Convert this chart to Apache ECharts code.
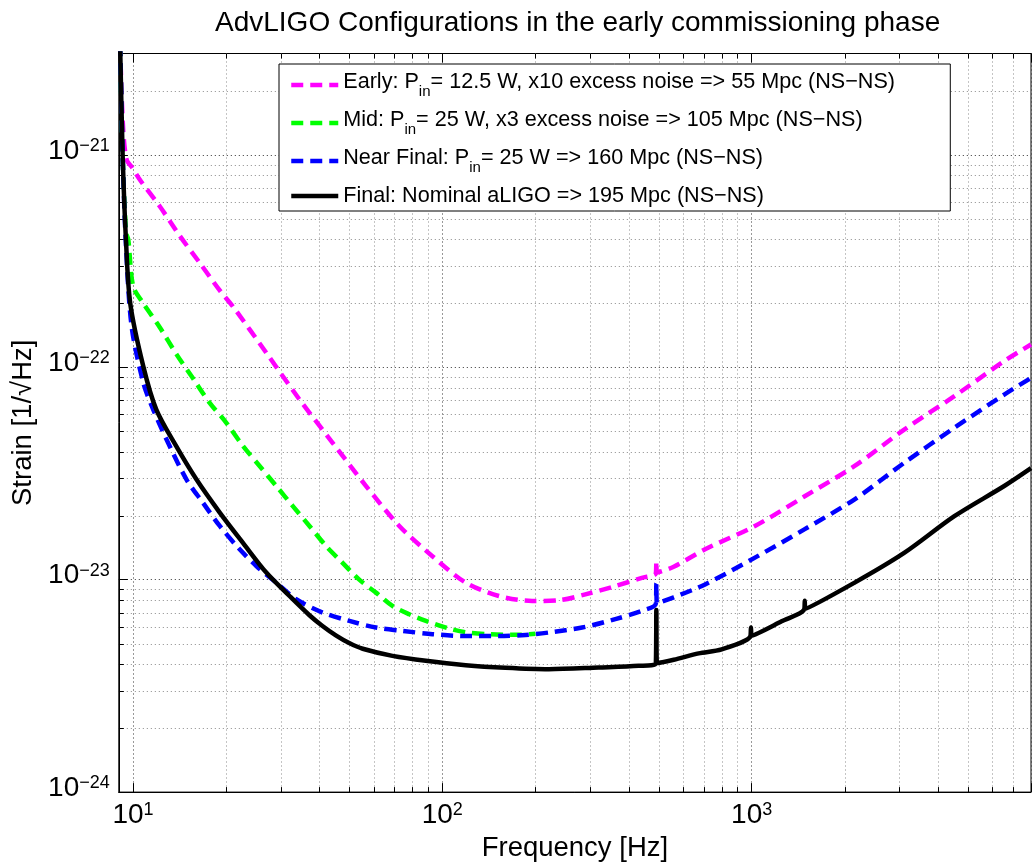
<!DOCTYPE html>
<html>
<head>
<meta charset="utf-8">
<script src="https://cdn.jsdelivr.net/npm/echarts@6.0.0/dist/echarts.min.js"></script>
<style>
html, body { margin: 0; padding: 0; background: #fff; }
#root { width: 1034px; height: 867px; }
</style>
</head>
<body>
<div id="root"></div>
<script>
// strain values, frequency in Hz
const earlyFreq = [9.0, 9.1, 9.3, 9.54, 9.9, 10.53, 12.22, 14.18, 16.44, 19.08, 21.06, 26.98, 34.55, 44.2, 56.7, 72.6, 92.9, 119, 152.4, 195.2, 238, 290, 362.5, 441.7, 490, 492, 494, 560, 707, 1025, 1485, 2153, 3121, 4523, 6555, 8000]
const earlyStrain = [5e-21, 3e-21, 1.31e-21, 9.47e-22, 8.79e-22, 7.63e-22, 5.71e-22, 4.15e-22, 3.1e-22, 2.3e-22, 1.93e-22, 1.17e-22, 7.05e-23, 4.41e-23, 2.76e-23, 1.79e-23, 1.29e-23, 9.69e-24, 8.38e-24, 7.94e-24, 8.0e-24, 8.53e-24, 9.33e-24, 1.02e-23, 1.07e-23, 1.22e-23, 1.08e-23, 1.15e-23, 1.39e-23, 1.79e-23, 2.47e-23, 3.43e-23, 5.1e-23, 7.31e-23, 1.07e-22, 1.28e-22]

const midFreq = [9.0, 9.1, 9.26, 9.5, 9.66, 10.02, 10.8, 12.22, 13.83, 15.65, 17.7, 20.04, 22.68, 25.67, 29.06, 32.87, 37.2, 42.1, 47.6, 53.9, 61.05, 69.0, 78.2, 88.5, 105.2, 119, 141.5, 176.8, 200]
const midStrain = [5e-21, 3e-21, 1e-21, 4.3e-22, 3.98e-22, 2.4e-22, 2.0e-22, 1.54e-22, 1.15e-22, 8.85e-23, 6.8e-23, 5.48e-23, 4.26e-23, 3.43e-23, 2.76e-23, 2.22e-23, 1.79e-23, 1.44e-23, 1.2e-23, 1.0e-23, 8.69e-24, 7.52e-24, 6.87e-24, 6.4e-24, 5.89e-24, 5.66e-24, 5.54e-24, 5.5e-24, 5.56e-24]

const nearFreq = [9.0, 9.1, 9.26, 9.49, 9.9, 10.8, 11.63, 12.84, 14.9, 16.85, 19.08, 22.13, 25.05, 29.06, 33.7, 41.07, 50.07, 61.05, 74.35, 92.9, 119, 152.4, 185.9, 221, 283, 362.5, 441.7, 490, 492, 494, 560, 707, 1025, 1485, 2153, 3121, 4523, 6555, 8000]
const nearStrain = [5e-21, 3e-21, 1e-21, 3.8e-22, 1.56e-22, 8.46e-23, 6.32e-23, 4.57e-23, 2.96e-23, 2.3e-23, 1.79e-23, 1.39e-23, 1.16e-23, 9.68e-24, 8.09e-24, 7.0e-24, 6.4e-24, 5.95e-24, 5.74e-24, 5.54e-24, 5.43e-24, 5.43e-24, 5.49e-24, 5.64e-24, 5.95e-24, 6.52e-24, 7.13e-24, 7.7e-24, 9.6e-24, 7.75e-24, 8.26e-24, 9.5e-24, 1.27e-23, 1.73e-23, 2.39e-23, 3.56e-23, 5.19e-23, 7.44e-23, 8.9e-23]

const finalFreq = [9.0, 9.1, 9.26, 9.49, 9.8, 10.8, 11.9, 13.8, 16.05, 19.08, 22.68, 26.98, 32.07, 37.2, 41.0, 45.4, 50.0, 55.3, 69.0, 88.5, 119, 160, 221, 320, 431, 490, 492, 494, 560, 674, 800, 990, 995, 1000, 1250, 1480, 1485, 1490, 2153, 3121, 4523, 6555, 8000]
const finalStrain = [5e-21, 3e-21, 1e-21, 4e-22, 2e-22, 1.01e-22, 6.32e-23, 4.25e-23, 2.96e-23, 2.07e-23, 1.49e-23, 1.08e-23, 8.38e-24, 6.8e-24, 6.05e-24, 5.45e-24, 5.03e-24, 4.73e-24, 4.38e-24, 4.15e-24, 3.96e-24, 3.85e-24, 3.79e-24, 3.86e-24, 3.93e-24, 4.03e-24, 7.2e-24, 4.05e-24, 4.2e-24, 4.5e-24, 4.7e-24, 5.4e-24, 5.95e-24, 5.45e-24, 6.37e-24, 7.26e-24, 7.95e-24, 7.3e-24, 9.69e-24, 1.34e-23, 1.99e-23, 2.76e-23, 3.35e-23]

// grid lines between decades
const xMinorTicks = [20, 30, 40, 50, 60, 70, 80, 90, 200, 300, 400, 500, 600, 700, 800, 900, 2000, 3000, 4000, 5000, 6000, 7000]
const yMinorTicks = [2e-24, 3e-24, 4e-24, 5e-24, 6e-24, 7e-24, 8e-24, 9e-24, 2e-23, 3e-23, 4e-23, 5e-23, 6e-23, 7e-23, 8e-23, 9e-23, 2e-22, 3e-22, 4e-22, 5e-22, 6e-22, 7e-22, 8e-22, 9e-22, 2e-21]

// the log axis of echarts rounds ticks to 10 decimals, so strain is plotted in units of 1e-24
const UNIT = 1e24

const legendParts = {
	'Early': ['Early: P', 'in', '= 12.5 W, x10 excess noise => 55 Mpc (NS\u2212NS)'],
	'Mid': ['Mid: P', 'in', '= 25 W, x3 excess noise => 105 Mpc (NS\u2212NS)'],
	'Near Final': ['Near Final: P', 'in', '= 25 W => 160 Mpc (NS\u2212NS)'],
	'Final': ['Final: Nominal aLIGO => 195 Mpc (NS\u2212NS)']
}

const FONT = '"Liberation Sans", Arial, Helvetica, sans-serif'

var toPairs = (freq, strain) => freq.map((f, i) => [f, strain[i] * UNIT])

var powerOf = v => {
	const e = Math.round(Math.log10(v))
	return Math.abs(Math.log10(v) - e) < 1e-6 ? e : null
}

var lineSeries = (name, freq, strain, color, dashed, z) => {
	return {
		name,
		type: 'line',
		data: toPairs(freq, strain),
		showSymbol: false,
		symbol: 'none',
		silent: true,
		smooth: 0.3,
		z,
		lineStyle: { color, width: 4.5, type: dashed ? [12, 7] : 'solid', cap: 'butt', join: 'round' },
		itemStyle: { color }
	}
}

var minorX = (params, api) => {
	const cs = params.coordSys
	const x = Math.round(api.coord([api.value(0), 10])[0]) + 0.5
	return {
		type: 'group',
		children: [
			{ type: 'line', shape: { x1: x, y1: cs.y, x2: x, y2: cs.y + cs.height }, style: { stroke: '#8a8a8a', lineWidth: 1, lineDash: [1, 3] } },
			{ type: 'line', shape: { x1: x, y1: cs.y + cs.height - 5, x2: x, y2: cs.y + cs.height }, style: { stroke: '#000', lineWidth: 1 } },
			{ type: 'line', shape: { x1: x, y1: cs.y, x2: x, y2: cs.y + 5 }, style: { stroke: '#000', lineWidth: 1 } }
		]
	}
}

var minorY = (params, api) => {
	const cs = params.coordSys
	const y = Math.round(api.coord([100, api.value(1)])[1]) + 0.5
	return {
		type: 'group',
		children: [
			{ type: 'line', shape: { x1: cs.x, y1: y, x2: cs.x + cs.width, y2: y }, style: { stroke: '#8a8a8a', lineWidth: 1, lineDash: [1, 3] } },
			{ type: 'line', shape: { x1: cs.x, y1: y, x2: cs.x + 5, y2: y }, style: { stroke: '#000', lineWidth: 1 } }
		]
	}
}

const axisCommon = {
	type: 'log',
	logBase: 10,
	axisLine: { show: true, lineStyle: { color: '#000', width: 1 } },
	axisTick: { show: true, inside: true, length: 9, lineStyle: { color: '#000' } },
	splitLine: { show: true, lineStyle: { color: '#333', width: 1, type: [1, 3] } }
}

const chart = echarts.init(document.getElementById('root'), null, { renderer: 'canvas' })

const option = {
	animation: false,
	backgroundColor: '#fff',
	textStyle: { fontFamily: FONT },
	title: {
		text: 'AdvLIGO Configurations in the early commissioning phase',
		left: 210,
		top: 4,
		textStyle: { fontFamily: FONT, fontSize: 28, fontWeight: 'normal', color: '#000' }
	},
	grid: {
		left: 118.8,
		right: -1,
		top: 53.5,
		bottom: 73.9,
		show: true,
		borderColor: '#000',
		borderWidth: 1,
		backgroundColor: '#fff'
	},
	legend: {
		data: ['Early', 'Mid', 'Near Final', 'Final'],
		orient: 'vertical',
		left: 279,
		top: 64,
		padding: [7, 55, 4, 10],
		itemWidth: 47,
		itemHeight: 14,
		itemGap: 10,
		borderColor: '#000',
		borderWidth: 1,
		backgroundColor: '#fff',
		selectedMode: false,
		itemStyle: { opacity: 0 },
		lineStyle: { width: 4.5 },
		formatter: name => {
			const p = legendParts[name]
			if (p.length === 1) return `{n|${p[0]}}`
			return `{n|${p[0]}}{sub|${p[1]}}{n|${p[2]}}{sp| }`
		},
		textStyle: {
			fontFamily: FONT,
			color: '#000',
			rich: {
				n: { fontFamily: FONT, fontSize: 21.6, lineHeight: 22, verticalAlign: 'top', color: '#000' },
				sub: { fontFamily: FONT, fontSize: 15, lineHeight: 14, verticalAlign: 'bottom', color: '#000' },
				sp: { fontSize: 1, lineHeight: 28, verticalAlign: 'top' }
			}
		}
	},
	xAxis: [
		Object.assign({}, axisCommon, {
			min: 9,
			max: 8000,
			position: 'bottom',
			name: 'Frequency [Hz]',
			nameLocation: 'middle',
			nameGap: 40,
			nameTextStyle: { fontFamily: FONT, fontSize: 27.5, color: '#000' },
			axisLabel: {
				margin: 9,
				color: '#000',
				formatter: v => {
					const e = powerOf(v)
					return e === null ? '' : `{b|10}{s|${e}}`
				},
				rich: {
					b: { fontFamily: FONT, fontSize: 28, lineHeight: 40, verticalAlign: 'top', color: '#000' },
					s: { fontFamily: FONT, fontSize: 18, lineHeight: 12, verticalAlign: 'top', color: '#000' }
				}
			}
		}),
		Object.assign({}, axisCommon, {
			min: 9,
			max: 8000,
			position: 'top',
			axisLabel: { show: false },
			splitLine: { show: false }
		})
	],
	yAxis: Object.assign({}, axisCommon, {
		min: 1e-24 * UNIT,
		max: 3e-21 * UNIT,
		name: 'Strain [1/\u221aHz]',
		nameLocation: 'middle',
		nameGap: 80,
		nameRotate: 90,
		nameTextStyle: { fontFamily: FONT, fontSize: 27.5, color: '#000' },
		axisLabel: {
			margin: 9,
			color: '#000',
			formatter: v => {
				const e = powerOf(v)
				return e === null ? '' : `{b|10}{s|\u2212${24 - e}}`
			},
			rich: {
				b: { fontFamily: FONT, fontSize: 28, lineHeight: 36, verticalAlign: 'top', color: '#000' },
				s: { fontFamily: FONT, fontSize: 18, lineHeight: 16, verticalAlign: 'top', color: '#000' }
			}
		}
	}),
	series: [
		{
			type: 'custom',
			renderItem: minorX,
			data: xMinorTicks.map(v => [v, 10]),
			encode: { x: 0, y: 1 },
			silent: true,
			z: 1
		},
		{
			type: 'custom',
			renderItem: minorY,
			data: yMinorTicks.map(v => [100, v * UNIT]),
			encode: { x: 0, y: 1 },
			silent: true,
			z: 1
		},
		lineSeries('Early', earlyFreq, earlyStrain, '#ff00ff', true, 3),
		lineSeries('Mid', midFreq, midStrain, '#00ff00', true, 4),
		lineSeries('Near Final', nearFreq, nearStrain, '#0000ff', true, 5),
		lineSeries('Final', finalFreq, finalStrain, '#000000', false, 6)
	]
}

chart.setOption(option)
</script>
</body>
</html>
